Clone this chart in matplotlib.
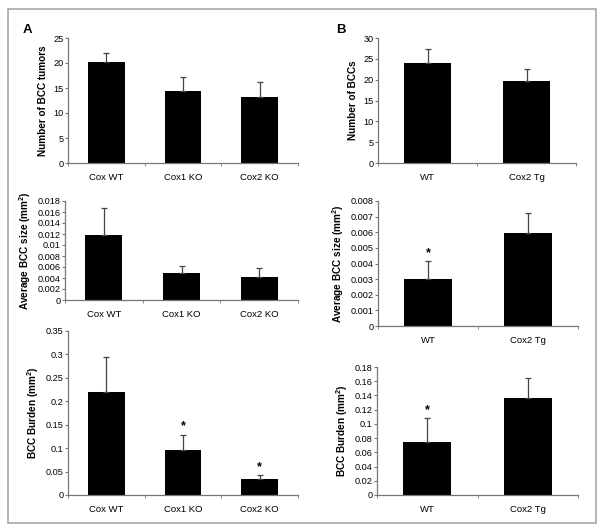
import matplotlib
matplotlib.use("Agg")
from matplotlib import pyplot as plt
from matplotlib.patches import Rectangle
import numpy as np

plt.rcParams["font.family"] = ["Liberation Sans", "DejaVu Sans"]
plt.rcParams["mathtext.fontset"] = "custom"
plt.rcParams["mathtext.rm"] = "Liberation Sans:bold"
plt.rcParams["mathtext.default"] = "rm"

# Panel A data
cats_a = ["Cox WT", "Cox1 KO", "Cox2 KO"]
tumors_a = [20.3, 14.4, 13.3]
tumors_a_err = [1.7, 2.8, 2.9]
size_a = [0.0119, 0.0050, 0.0042]
size_a_err = [0.0049, 0.0011, 0.0017]
burden_a = [0.220, 0.096, 0.035]
burden_a_err = [0.075, 0.032, 0.007]
burden_a_star = [False, True, True]

# Panel B data
cats_b = ["WT", "Cox2 Tg"]
bccs_b = [24.1, 19.7]
bccs_b_err = [3.3, 2.9]
size_b = [0.0030, 0.00595]
size_b_err = [0.00115, 0.00127]
size_b_star = [True, False]
burden_b = [0.074, 0.137]
burden_b_err = [0.034, 0.028]
burden_b_star = [True, False]

W, H = 600, 529
fig = plt.figure(figsize=(W / 100, H / 100), dpi=100)

# outer frame
fig.patches.append(Rectangle((8 / W, 1 - 523 / H), 588 / W, 514 / H,
                             transform=fig.transFigure, fill=False,
                             edgecolor="#a0a0a0", linewidth=1.1))


def px_axes(x0, y0, x1, y1):
    return fig.add_axes([x0 / W, 1 - y1 / H, (x1 - x0) / W, (y1 - y0) / H])


def bar_panel(ax, cats, vals, errs, ylim, ystep, ylabel, stars=None):
    x = np.arange(len(cats))
    ax.bar(x, vals, width=0.48, color="black", zorder=2)
    ax.errorbar(x, vals, yerr=[np.zeros(len(vals)), errs], fmt="none",
                ecolor="#444444", elinewidth=0.9, capsize=2.5, capthick=0.9, zorder=3)
    if stars is not None:
        for xi, v, e, s in zip(x, vals, errs, stars):
            if s:
                ax.text(xi, v + e + ylim * 0.015, "*", ha="center", va="bottom",
                        fontsize=9, fontweight="bold")
    ax.set_xlim(-0.5, len(cats) - 0.5)
    ax.set_ylim(0, ylim)
    ticks = np.arange(0, ylim + ystep / 2, ystep)
    ax.set_yticks(ticks)
    ax.set_yticklabels([("%g" % round(t, 6)) for t in ticks])
    ax.set_xticks(x)
    ax.set_xticklabels(cats)
    ax.set_xticks(np.arange(-0.5, len(cats)), minor=True)
    ax.tick_params(axis="x", which="major", length=0, labelsize=6.8, pad=7)
    ax.tick_params(axis="x", which="minor", length=2.5, color="#777777")
    ax.tick_params(axis="y", length=2.2, labelsize=6.6, color="#777777", pad=1)
    for s in ["top", "right"]:
        ax.spines[s].set_visible(False)
    for s in ["left", "bottom"]:
        ax.spines[s].set_color("#777777")
        ax.spines[s].set_linewidth(0.9)
    ax.set_ylabel(ylabel, fontsize=7.2, fontweight="bold", labelpad=3.5)


ax = px_axes(68, 38, 298, 163)
bar_panel(ax, cats_a, tumors_a, tumors_a_err, 25, 5, "Number of BCC tumors")
ax = px_axes(65, 201, 298, 300)
bar_panel(ax, cats_a, size_a, size_a_err, 0.018, 0.002, "Average BCC size (mm$^2$)")
ax = px_axes(68, 331, 298, 495)
bar_panel(ax, cats_a, burden_a, burden_a_err, 0.35, 0.05, "BCC Burden (mm$^2$)",
          stars=burden_a_star)

ax = px_axes(378, 38, 576, 163)
bar_panel(ax, cats_b, bccs_b, bccs_b_err, 30, 5, "Number of BCCs")
ax = px_axes(378, 201, 578, 326)
bar_panel(ax, cats_b, size_b, size_b_err, 0.008, 0.001, "Average BCC size (mm$^2$)",
          stars=size_b_star)
ax = px_axes(377, 367, 578, 495)
bar_panel(ax, cats_b, burden_b, burden_b_err, 0.18, 0.02, "BCC Burden (mm$^2$)",
          stars=burden_b_star)

fig.text(23 / W, 1 - 30 / H, "A", fontsize=9.5, fontweight="bold", va="center")
fig.text(336 / W, 1 - 30 / H, "B", fontsize=9.5, fontweight="bold", va="center")

fig.savefig("out.png", dpi=100)
